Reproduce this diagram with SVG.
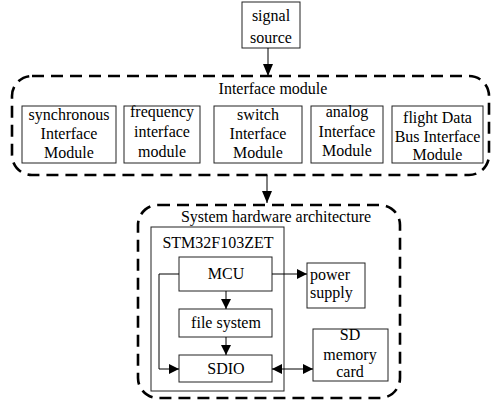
<svg xmlns="http://www.w3.org/2000/svg" width="493" height="401" viewBox="0 0 493 401">
<style>
text{font-family:"Liberation Serif","Times New Roman",serif;font-size:16px;fill:#000;text-anchor:middle}
.box{fill:#fff;stroke:#222;stroke-width:1}
.dash{fill:none;stroke:#000;stroke-width:2.6;stroke-dasharray:12 7}
.ln{fill:none;stroke:#000;stroke-width:1}
</style>
<defs>
<marker id="ah" viewBox="0 0 10 10" refX="10" refY="5" markerWidth="10" markerHeight="10" markerUnits="userSpaceOnUse" orient="auto-start-reverse">
<path d="M0,0 L10,5 L0,10 z" fill="#000"/>
</marker>
<marker id="ahb" viewBox="0 0 12 10" refX="12" refY="5" markerWidth="12" markerHeight="11" markerUnits="userSpaceOnUse" orient="auto">
<path d="M0,0 L12,5 L0,10 z" fill="#000"/>
</marker>
</defs>
<g id="signal-source">
<rect class="box" x="242" y="2" width="58" height="46"/>
<text x="271" y="21">signal</text>
<text x="271" y="43">source</text>
</g>
<g id="interface-module">
<rect class="dash" x="12" y="76" width="477" height="99" rx="20"/>
<text x="273" y="94">Interface module</text>
</g>
<g id="sync">
<rect class="box" x="22" y="106" width="94" height="57"/>
<text x="69" y="120">synchronous</text>
<text x="69" y="139">Interface</text>
<text x="69" y="158">Module</text>
</g>
<g id="freq">
<rect class="box" x="124" y="106" width="76" height="57"/>
<text x="162" y="117">frequency</text>
<text x="162" y="137">interface</text>
<text x="162" y="157">module</text>
</g>
<g id="switch">
<rect class="box" x="214" y="106" width="88" height="57"/>
<text x="258" y="120">switch</text>
<text x="258" y="139">Interface</text>
<text x="258" y="158">Module</text>
</g>
<g id="analog">
<rect class="box" x="311" y="106" width="72" height="57"/>
<text x="347" y="117">analog</text>
<text x="347" y="137">Interface</text>
<text x="347" y="156">Module</text>
</g>
<g id="flight">
<rect class="box" x="392" y="106" width="91" height="57"/>
<text x="437.5" y="123">flight Data</text>
<text x="437.5" y="142">Bus Interface</text>
<text x="437.5" y="160">Module</text>
</g>
<g id="system-hardware">
<rect class="dash" x="138" y="205" width="262" height="193" rx="20"/>
<text x="276" y="222">System hardware architecture</text>
</g>
<g id="stm32">
<rect class="box" x="151" y="227" width="133" height="164"/>
<text x="218" y="248">STM32F103ZET</text>
</g>
<g id="mcu">
<rect class="box" x="179" y="257" width="93" height="34"/>
<text x="226" y="279">MCU</text>
</g>
<g id="file-system">
<rect class="box" x="179" y="309" width="93" height="28"/>
<text x="226" y="328">file system</text>
</g>
<g id="sdio">
<rect class="box" x="179" y="355" width="93" height="27"/>
<text x="226" y="374">SDIO</text>
</g>
<g id="power-supply">
<rect class="box" x="307" y="263" width="58" height="45"/>
<text x="310" y="280" style="text-anchor:start">power</text>
<text x="310" y="298" style="text-anchor:start">supply</text>
</g>
<g id="sd-card">
<rect class="box" x="313" y="329" width="75" height="52"/>
<text x="350" y="340">SD</text>
<text x="350" y="360">memory</text>
<text x="350" y="377">card</text>
</g>
<g id="connectors">
<line class="ln" x1="268" y1="48" x2="268" y2="76" marker-end="url(#ahb)"/>
<line class="ln" x1="267" y1="175" x2="267" y2="203" marker-end="url(#ahb)"/>
<line class="ln" x1="272" y1="274" x2="307" y2="274" marker-end="url(#ah)"/>
<line class="ln" x1="226" y1="291" x2="226" y2="309" marker-end="url(#ah)"/>
<line class="ln" x1="226" y1="337" x2="226" y2="355" marker-end="url(#ah)"/>
<polyline class="ln" points="179,274 159,274 159,369 179,369" marker-end="url(#ah)"/>
<line class="ln" x1="272" y1="369" x2="313" y2="369" marker-start="url(#ah)" marker-end="url(#ah)"/>
</g>
</svg>
